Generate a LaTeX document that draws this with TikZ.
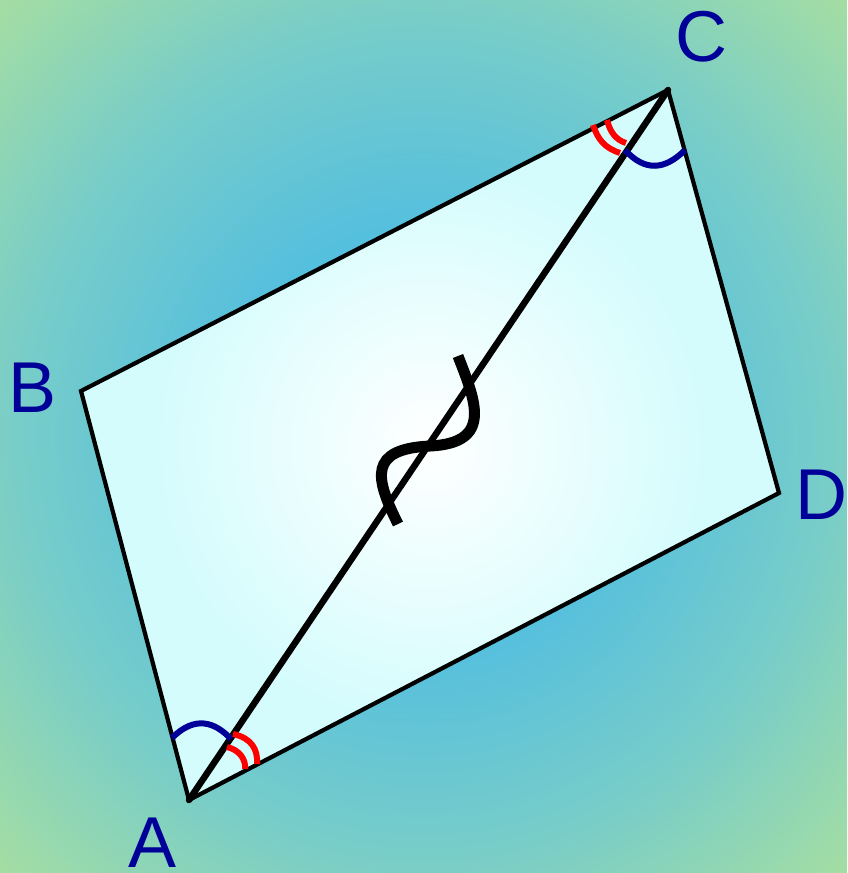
\documentclass[tikz,border=0pt]{standalone}
\usepackage{fontspec}
\setmainfont{Liberation Sans}
\definecolor{bgA}{RGB}{82,190,224}
\definecolor{bgB}{RGB}{120,205,200}
\definecolor{bgC}{RGB}{163,221,164}
\definecolor{pgA}{RGB}{255,255,255}
\definecolor{pgB}{RGB}{212,252,253}
\definecolor{lbl}{RGB}{0,0,153}
\definecolor{mkred}{RGB}{255,0,0}
\pgfdeclareradialshading{bgshade}{\pgfpoint{0bp}{0bp}}{color(0bp)=(bgA); color(11bp)=(bgA); color(24bp)=(bgB); color(35bp)=(bgC); color(50bp)=(bgC)}
\pgfdeclareradialshading{pgshade}{\pgfpoint{0bp}{0bp}}{color(0bp)=(pgA); color(20bp)=(pgB); color(50bp)=(pgB)}
\tikzset{
  side/.style={draw=black, line width=4.2pt, line join=miter},
  diag/.style={draw=black, line width=6.5pt, line cap=round},
  bluemark/.style={draw=lbl, line width=6pt},
  redmark/.style={draw=mkred, line width=6pt},
  lab/.style={text=lbl, inner sep=0pt, font=\fontsize{72}{72}\selectfont},
  tildemark/.style={draw=black, line width=11pt}
}
\begin{document}
\begin{tikzpicture}[x=1pt, y=-1pt]
\useasboundingbox (0,0) rectangle (847,873);
\fill[shading=bgshade] (0,0) rectangle (847,873);
\coordinate (A) at (189,800);
\coordinate (B) at (81,391);
\coordinate (C) at (668,90);
\coordinate (D) at (779,493);
\path[shading=pgshade] (A) -- (B) -- (C) -- (D) -- cycle;
\draw[side] (A) -- (B) -- (C) -- (D) -- cycle;
\draw[diag] (A) -- (C);
% angle marks at A
\draw[bluemark] (172,738) .. controls (195,715) and (215,722) .. (231,739);
\draw[redmark] (233,734) .. controls (252,738) and (258,750) .. (257,764);
\draw[redmark] (227,747) .. controls (240,750) and (246,760) .. (245,769);
% angle marks at C
\draw[bluemark] (625,150) .. controls (645,172) and (665,170) .. (685,150);
\draw[redmark] (593,125) .. controls (598,140) and (605,148) .. (620,153);
\draw[redmark] (607,120) .. controls (610,132) and (616,140) .. (626,143);
% congruence sign
\draw[tildemark] (458,356) .. controls (475,400) and (494,443) .. (430,446) .. controls (368,449) and (375,478) .. (398,524);
% labels
\node[lab] (lA) at (153,843) {A};
\node[lab] (lB) at (33,388) {B};
\node[lab] (lC) at (701,37) {C};
\node[lab] (lD) at (821,495) {D};
\end{tikzpicture}
\end{document}
